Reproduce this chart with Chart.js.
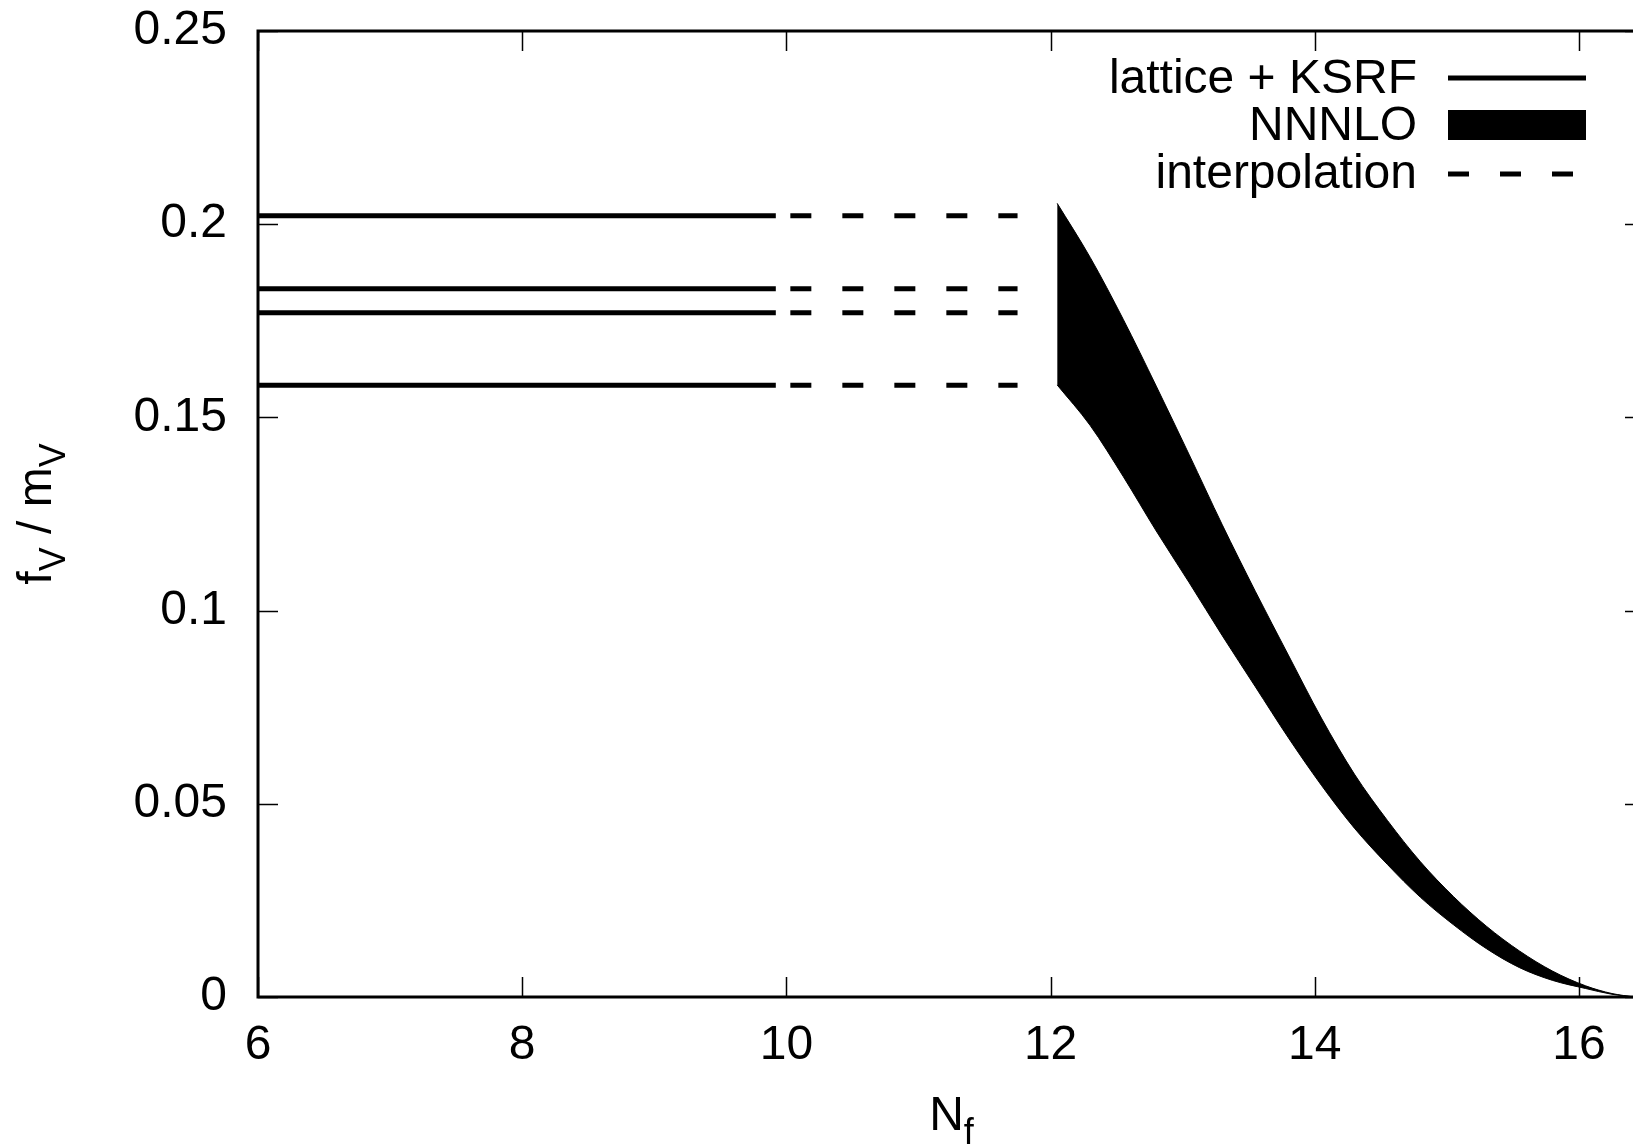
<!DOCTYPE html>
<html>
<head>
<meta charset="utf-8">
<script src="https://cdn.jsdelivr.net/npm/chart.js@4/dist/chart.umd.min.js"></script>
<style>
  html, body { margin: 0; padding: 0; background: #fff; overflow: hidden; }
  #wrap { width: 1660px; height: 1144px; }
</style>
</head>
<body>
<div id="wrap"><canvas id="chart" width="1660" height="1144"></canvas></div>
<script>
// ---- data ----
const X_TICKS = [6, 8, 10, 12, 14, 16];
const Y_TICKS = [0, 0.05, 0.1, 0.15, 0.2, 0.25];

// lattice + KSRF values (solid up to Nf~9.9, dashed interpolation 10..11.75)
const LATTICE_FV = [0.2022, 0.1833, 0.1771, 0.1583];
const LATTICE_NF = [6, 9.92];
const INTERP_NF = [10.03, 11.75];

// NNNLO band edges
const UPPER_NF = [12.05, 12.30, 12.55, 12.80, 13.05, 13.30, 13.55, 13.80, 14.05, 14.30, 14.55, 14.80, 15.05, 15.30, 15.55, 15.80, 16.05, 16.25, 16.42];
const UPPER_FV = [0.2054, 0.1914, 0.1754, 0.1581, 0.1403, 0.1222, 0.1050, 0.0885, 0.0722, 0.0577, 0.0457, 0.0350, 0.0260, 0.0183, 0.0119, 0.0067, 0.0029, 0.0009, 0.0];
const LOWER_NF = [12.05, 12.30, 12.55, 12.80, 13.05, 13.30, 13.55, 13.80, 14.05, 14.30, 14.55, 14.80, 15.05, 15.30, 15.55, 15.80, 16.05, 16.25, 16.42];
const LOWER_FV = [0.1584, 0.1479, 0.1347, 0.1206, 0.1072, 0.0935, 0.0803, 0.0671, 0.0548, 0.0437, 0.0343, 0.0258, 0.0187, 0.0125, 0.0076, 0.0043, 0.0022, 0.0007, 0.0];

const FONT = '"Liberation Sans", Arial, Helvetica, sans-serif';
const FS = 48;
const LW = 5;
const DASH = [21, 31];

function pts(xs, ys) { return xs.map((x, i) => ({ x: x, y: ys[i] })); }

const datasets = [];
LATTICE_FV.forEach(v => {
  datasets.push({ data: LATTICE_NF.map(x => ({ x: x, y: v })), borderColor: '#000', borderWidth: LW, borderCapStyle: 'butt', pointRadius: 0, fill: false });
  datasets.push({ data: INTERP_NF.map(x => ({ x: x, y: v })), borderColor: '#000', borderWidth: LW, borderDash: DASH, borderCapStyle: 'butt', pointRadius: 0, fill: false });
});
// band: upper edge filled down to the lower edge
datasets.push({ data: pts(UPPER_NF, UPPER_FV), borderColor: '#000', borderWidth: 1, backgroundColor: '#000', pointRadius: 0, cubicInterpolationMode: 'monotone', fill: '+1' });
datasets.push({ data: pts(LOWER_NF, LOWER_FV), borderColor: '#000', borderWidth: 1, pointRadius: 0, cubicInterpolationMode: 'monotone', fill: false });

// frame + inward ticks on all four sides (gnuplot style)
const framePlugin = {
  id: 'frame',
  afterDatasetsDraw(chart) {
    const { ctx, chartArea: a, scales: { x, y } } = chart;
    ctx.save();
    ctx.strokeStyle = '#000';
    ctx.lineWidth = 1.5;
    const T = 20;
    ctx.beginPath();
    X_TICKS.forEach(v => {
      const px = Math.round(x.getPixelForValue(v)) + 0.5;
      ctx.moveTo(px, a.bottom); ctx.lineTo(px, a.bottom - T);
      ctx.moveTo(px, a.top); ctx.lineTo(px, a.top + T);
    });
    Y_TICKS.forEach(v => {
      const py = Math.round(y.getPixelForValue(v)) + 0.5;
      ctx.moveTo(a.left, py); ctx.lineTo(a.left + T, py);
      ctx.moveTo(a.right, py); ctx.lineTo(a.right - T, py);
    });
    ctx.stroke();
    ctx.lineWidth = 3;
    ctx.strokeRect(a.left, a.top, a.right - a.left, a.bottom - a.top);
    ctx.restore();
  }
};

// key in the upper right, text right-aligned with samples after it
const keyPlugin = {
  id: 'key',
  afterDraw(chart) {
    const ctx = chart.ctx;
    const textRight = 1417, s0 = 1448, s1 = 1586;
    ctx.save();
    ctx.fillStyle = '#000';
    ctx.strokeStyle = '#000';
    ctx.font = FS + 'px ' + FONT;
    ctx.textAlign = 'right';
    ctx.textBaseline = 'middle';
    ctx.fillText('lattice + KSRF', textRight, 80);
    ctx.fillText('NNNLO', textRight, 127);
    ctx.fillText('interpolation', textRight, 175);
    ctx.lineWidth = LW;
    ctx.lineCap = 'butt';
    ctx.beginPath(); ctx.moveTo(s0, 78); ctx.lineTo(s1, 78); ctx.stroke();
    ctx.fillRect(s0, 110, s1 - s0, 30);
    ctx.setLineDash(DASH);
    ctx.beginPath(); ctx.moveTo(s0, 174); ctx.lineTo(s1, 174); ctx.stroke();
    ctx.restore();
  }
};

// axis titles with subscripts
const SUB = 36;
function subText(ctx, parts, x, y) {
  let cx = x;
  parts.forEach(([t, sub]) => {
    ctx.font = (sub ? SUB : FS) + 'px ' + FONT;
    ctx.fillText(t, cx, sub ? y + 14 : y);
    cx += ctx.measureText(t).width;
  });
}
function partsWidth(ctx, parts) {
  let w = 0;
  parts.forEach(([t, sub]) => { ctx.font = (sub ? SUB : FS) + 'px ' + FONT; w += ctx.measureText(t).width; });
  return w;
}
const titlePlugin = {
  id: 'titles',
  afterDraw(chart) {
    const { ctx, chartArea: a } = chart;
    ctx.save();
    ctx.fillStyle = '#000';
    ctx.textAlign = 'left';
    ctx.textBaseline = 'alphabetic';
    const xParts = [['N', false], ['f', true]];
    const xw = partsWidth(ctx, xParts);
    subText(ctx, xParts, (a.left + a.right) / 2 - xw / 2, 1130);
    const yParts = [['f', false], ['V', true], [' / m', false], ['V', true]];
    const yw = partsWidth(ctx, yParts);
    ctx.translate(51, (a.top + a.bottom) / 2);
    ctx.rotate(-Math.PI / 2);
    subText(ctx, yParts, -yw / 2, 0);
    ctx.restore();
  }
};

new Chart(document.getElementById('chart'), {
  type: 'line',
  data: { datasets: datasets },
  options: {
    responsive: false,
    animation: false,
    layout: { padding: { left: 0, top: 31, right: 15, bottom: 0 } },
    plugins: { legend: { display: false }, tooltip: { enabled: false } },
    elements: { line: { tension: 0 } },
    scales: {
      x: {
        type: 'linear', min: 6, max: 16.5,
        afterBuildTicks: s => { s.ticks = X_TICKS.map(v => ({ value: v })); },
        afterFit: s => { s.height = 147; s.paddingLeft = 0; s.paddingRight = 0; },
        grid: { display: false, drawTicks: false },
        border: { display: false },
        ticks: { color: '#000', font: { family: FONT, size: FS }, padding: 20, maxRotation: 0 }
      },
      y: {
        type: 'linear', min: 0, max: 0.25,
        afterBuildTicks: s => { s.ticks = Y_TICKS.map(v => ({ value: v })); },
        afterFit: s => { s.width = 258; s.paddingTop = 0; s.paddingBottom = 0; },
        grid: { display: false, drawTicks: false },
        border: { display: false },
        ticks: { color: '#000', font: { family: FONT, size: FS }, padding: 31, callback: v => String(+v.toFixed(2)) }
      }
    }
  },
  plugins: [framePlugin, keyPlugin, titlePlugin]
});
</script>
</body>
</html>
